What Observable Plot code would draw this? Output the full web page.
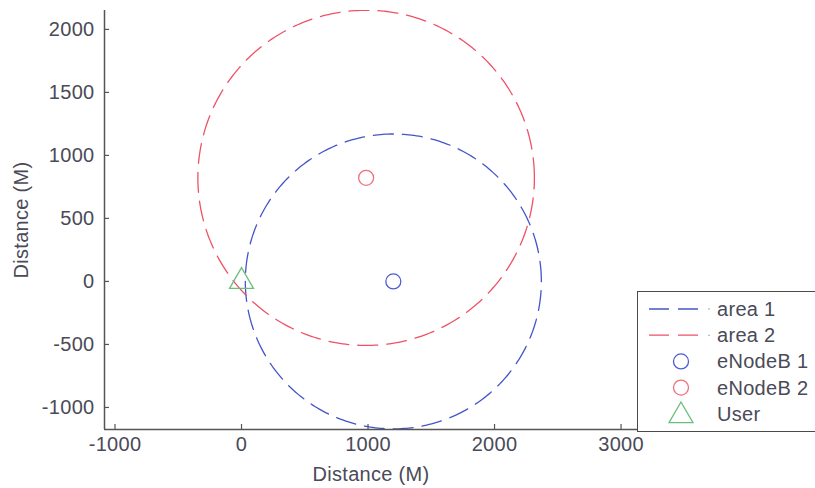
<!DOCTYPE html>
<html>
<head>
<meta charset="utf-8">
<script src="https://cdn.jsdelivr.net/npm/d3@7"></script>
<script src="https://cdn.jsdelivr.net/npm/@observablehq/plot@0.6"></script>
<style>
  html, body { margin: 0; padding: 0; background: #fff; overflow: hidden; }
  #wrap { position: relative; width: 815px; height: 488px; }
  #legend { position: absolute; left: 637px; top: 291px; width: 200px; height: 141px;
            border: 1.5px solid #4a4a4a; background: #fff; box-sizing: border-box; }
</style>
</head>
<body>
<div id="wrap"><div id="chart"></div><div id="legend"></div></div>
<script>
// ---- data ----
const areaNames = ["area 1", "area 2"];
const areaCenterX = [1200, 985];
const areaCenterY = [0, 822];
const areaRadius = [1170, 1330];
const areaColors = ["#4455c8", "#ee5266"];

const nodeNames = ["eNodeB 1", "eNodeB 2"];
const nodeX = [1200, 985];
const nodeY = [0, 822];
const nodeColors = ["#4d5dd0", "#f0707e"];

const userName = ["User"];
const userX = [0];
const userY = [0];
const userColor = "#6cbf7a";

const xTicks = [-1000, 0, 1000, 2000, 3000];
const yTicks = [-1000, -500, 0, 500, 1000, 1500, 2000];
const xDomain = [-1083, 3130];
const yDomain = [-1175, 2150];
const axisLabel = "Distance (M)";

// circle outlines built from center + radius
const circlePts = [];
areaNames.forEach((name, i) => {
  for (let k = 0; k <= 360; k++) {
    const a = (k / 360) * 2 * Math.PI;
    circlePts.push({series: name, color: areaColors[i],
      x: areaCenterX[i] + areaRadius[i] * Math.cos(a),
      y: areaCenterY[i] + areaRadius[i] * Math.sin(a)});
  }
});
const nodes = nodeNames.map((n, i) => ({name: n, x: nodeX[i], y: nodeY[i], color: nodeColors[i]}));
const users = userName.map((n, i) => ({name: n, x: userX[i], y: userY[i]}));

const textColor = "#4a4a58";
const axisColor = "#555";
const fontStack = "'Liberation Sans', Arial, sans-serif";

const chart = Plot.plot({
  width: 815, height: 488,
  marginLeft: 104, marginRight: 178, marginTop: 10, marginBottom: 59,
  x: {domain: xDomain},
  y: {domain: yDomain},
  style: {fontFamily: fontStack, fontSize: "20px", letterSpacing: "0.3px", color: textColor, background: "white"},
  marks: [
    Plot.line(circlePts, {x: "x", y: "y", z: "series", stroke: "color", strokeWidth: 1.3,
      strokeDasharray: "20,9", clip: true}),
    Plot.dot(nodes, {x: "x", y: "y", stroke: "color", r: 7.5, strokeWidth: 1.3}),
    Plot.dot(users, {x: "x", y: "y", stroke: userColor, symbol: "triangle", r: 8.9, strokeWidth: 1.3}),
    Plot.ruleX([xDomain[0]], {stroke: axisColor, strokeWidth: 1.5}),
    Plot.ruleY([yDomain[0]], {stroke: axisColor, strokeWidth: 1.5}),
    Plot.axisX({ticks: xTicks, tickSize: -5, tickPadding: 12, stroke: axisColor, strokeWidth: 1.2,
      label: axisLabel, labelAnchor: "center", labelArrow: "none", labelOffset: 51, tickFormat: d => String(d)}),
    Plot.axisY({ticks: yTicks, tickSize: -5, tickPadding: 15, stroke: axisColor, strokeWidth: 1.2,
      label: axisLabel, labelAnchor: "center", labelArrow: "none", labelOffset: 91, tickFormat: d => String(d)})
  ]
});
document.getElementById("chart").appendChild(chart);

// legend
const legendItems = [
  ...areaNames.map((n, i) => ({name: n, kind: "line", color: areaColors[i]})),
  ...nodeNames.map((n, i) => ({name: n, kind: "circle", color: nodeColors[i]})),
  ...userName.map(n => ({name: n, kind: "triangle", color: userColor}))
];
const lsvg = d3.create("svg").attr("width", 200).attr("height", 138)
  .style("font-family", fontStack).style("font-size", "20px").style("letter-spacing", "0.3px");
legendItems.forEach((it, i) => {
  const cy = 17 + i * 26.2;
  const g = lsvg.append("g").attr("transform", `translate(0,${cy})`);
  if (it.kind === "line") {
    g.append("line").attr("x1", 11).attr("x2", 63).attr("y1", 0).attr("y2", 0)
      .attr("stroke", it.color).attr("stroke-width", 1.3).attr("stroke-dasharray", "20,9");
    g.append("circle").attr("cx", 71).attr("cy", 0).attr("r", 0.7).attr("fill", "#888");
  } else if (it.kind === "circle") {
    g.append("circle").attr("cx", 43).attr("cy", 0).attr("r", 7.5).attr("fill", "none")
      .attr("stroke", it.color).attr("stroke-width", 1.3);
  } else {
    g.append("path").attr("transform", "translate(43,2)")
      .attr("d", d3.symbol(d3.symbolTriangle, Math.PI * 8.9 * 8.9)()).attr("fill", "none")
      .attr("stroke", it.color).attr("stroke-width", 1.3);
  }
  g.append("text").attr("x", 79).attr("y", 0).attr("dy", "0.35em").attr("fill", textColor).text(it.name);
});
document.getElementById("legend").appendChild(lsvg.node());
</script>
</body>
</html>
